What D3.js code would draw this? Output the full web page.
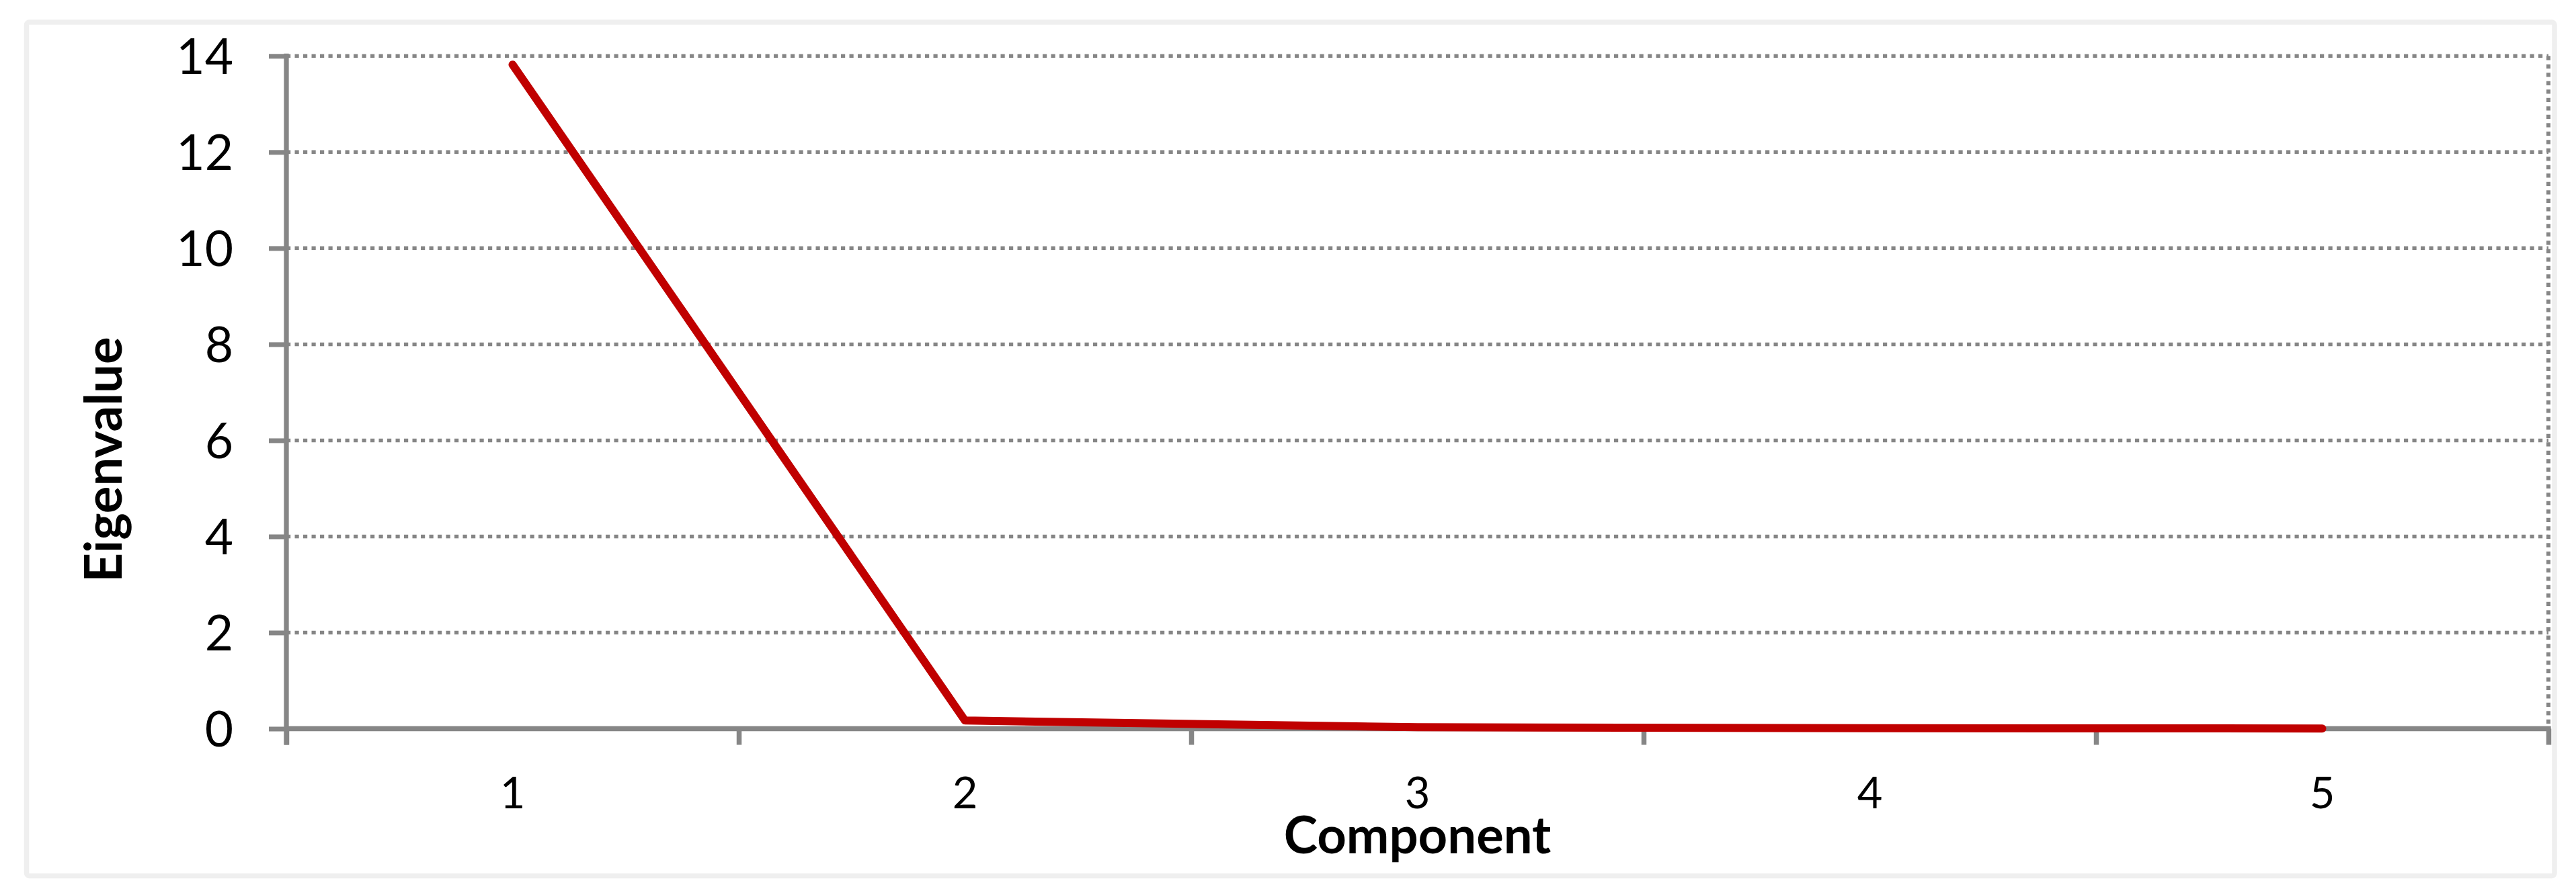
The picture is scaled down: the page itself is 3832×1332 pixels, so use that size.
<!DOCTYPE html>
<html>
<head>
<meta charset="utf-8">
<script src="https://d3js.org/d3.v7.min.js"></script>
<style>
  body { margin: 0; background: #fff; }
  svg text { font-family: Lato, "Open Sans", sans-serif; fill: #000; }
</style>
</head>
<body>
<div id="chart"></div>
<script>
// scree plot values
var components = ["1", "2", "3", "4", "5"];
var eigenvalues = [13.82, 0.17, 0.03, 0.01, 0.005];
var yTicks = [0, 2, 4, 6, 8, 10, 12, 14];
var xTitle = "Component";
var yTitle = "Eigenvalue";

var W = 3832, H = 1332;
// plot area edges (note: "top" is taken by window.top, so use other names)
var plotLeft = 426, plotRight = 3791, plotTop = 83.3, plotBottom = 1084.5;
var axisColor = "#868686";

var svg = d3.select("#chart").append("svg").attr("width", W).attr("height", H);

// outer chart frame
svg.append("rect")
    .attr("x", 39.5).attr("y", 33)
    .attr("width", 3800 - 39.5).attr("height", 1303.5 - 33)
    .attr("rx", 4)
    .attr("fill", "#fff")
    .attr("stroke", "#efefef")
    .attr("stroke-width", 7.5);

var x = d3.scaleBand().domain(components).range([plotLeft, plotRight]);
var xb = d3.scaleLinear().domain([0, components.length]).range([plotLeft, plotRight]);
var y = d3.scaleLinear().domain([0, 14]).range([plotBottom, plotTop]);

// dotted gridlines
svg.append("g").attr("class", "grid")
    .selectAll("line")
    .data(yTicks.filter(function(d){ return d > 0; }))
    .enter().append("line")
    .attr("x1", plotLeft).attr("x2", plotRight)
    .attr("y1", function(d){ return y(d); })
    .attr("y2", function(d){ return y(d); })
    .attr("stroke", axisColor)
    .attr("stroke-width", 5.5)
    .attr("stroke-dasharray", "6.2,6.3");

// right plot edge, dotted
svg.append("line")
    .attr("x1", plotRight).attr("x2", plotRight)
    .attr("y1", y(14)).attr("y2", plotBottom)
    .attr("stroke", axisColor)
    .attr("stroke-width", 6)
    .attr("stroke-dasharray", "6.2,6.3");

// y axis
var yAxis = svg.append("g")
    .attr("transform", "translate(" + plotLeft + ",0)")
    .call(d3.axisLeft(y).tickValues(yTicks).tickSize(26).tickPadding(53).tickFormat(d3.format("d")));
yAxis.select(".domain").remove();
yAxis.selectAll(".tick line").attr("stroke", axisColor).attr("stroke-width", 7);
yAxis.selectAll(".tick text").attr("font-size", 73).attr("dy", "0.36em");
yAxis.append("line")
    .attr("x1", 0).attr("x2", 0)
    .attr("y1", plotTop - 3.5).attr("y2", plotBottom + 24)
    .attr("stroke", axisColor).attr("stroke-width", 7.3);

// x axis: ticks sit between the categories
var xTicks = svg.append("g")
    .attr("transform", "translate(0," + plotBottom + ")")
    .call(d3.axisBottom(xb).ticks(components.length).tickSize(24).tickFormat(""));
xTicks.select(".domain").remove();
xTicks.selectAll(".tick line").attr("stroke", axisColor).attr("stroke-width", 7.5);
svg.append("line")
    .attr("x1", plotLeft).attr("x2", plotRight + 3.7)
    .attr("y1", plotBottom).attr("y2", plotBottom)
    .attr("stroke", axisColor).attr("stroke-width", 7.6);

var xAxis = svg.append("g")
    .attr("transform", "translate(0," + plotBottom + ")")
    .call(d3.axisBottom(x).tickSize(0));
xAxis.select(".domain").remove();
xAxis.selectAll(".tick text").attr("font-size", 65).attr("y", 118.5).attr("dy", null);

// the eigenvalue line
var line = d3.line()
    .x(function(d, i){ return x(components[i]) + x.bandwidth() / 2; })
    .y(function(d){ return y(d); });

svg.append("path")
    .datum(eigenvalues)
    .attr("d", line)
    .attr("fill", "none")
    .attr("stroke", "#c00000")
    .attr("stroke-width", 12)
    .attr("stroke-linecap", "round")
    .attr("stroke-linejoin", "round");

// axis titles
svg.append("text")
    .attr("x", (plotLeft + plotRight) / 2)
    .attr("y", 1270)
    .attr("text-anchor", "middle")
    .attr("font-size", 76)
    .attr("font-weight", "bold")
    .text(xTitle);

svg.append("text")
    .attr("transform", "translate(181,684) rotate(-90)")
    .attr("text-anchor", "middle")
    .attr("font-size", 76)
    .attr("font-weight", "bold")
    .text(yTitle);
</script>
</body>
</html>
